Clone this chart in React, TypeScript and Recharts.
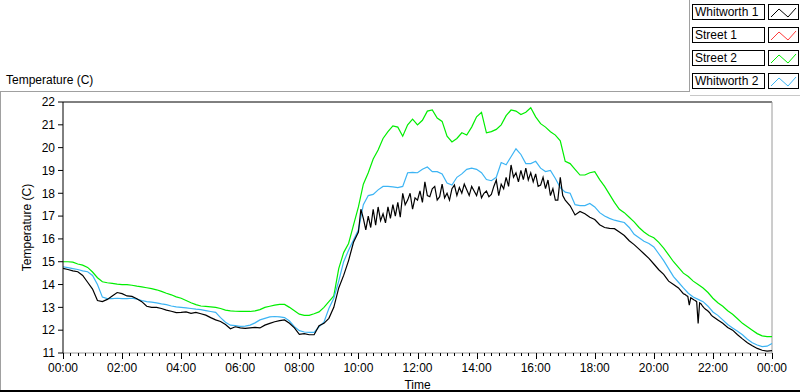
import { LineChart, Line, XAxis, YAxis, ReferenceLine } from "recharts";

// readings per hour, evenly spaced inside the hour (row length sets the step)
const whitworth1 = [
  [14.71, 14.66, 14.6, 14.56, 14.4, 14.1],
  [13.8, 13.3, 13.25, 13.35, 13.5, 13.65],
  [13.6, 13.5, 13.48, 13.38, 13.25, 13.05],
  [13.0, 13.0, 12.95, 12.88, 12.83, 12.77],
  [12.78, 12.8, 12.74, 12.78, 12.72, 12.66],
  [12.55, 12.45, 12.38, 12.25, 12.06, 12.15],
  [12.1, 12.08, 12.1, 12.12, 12.1, 12.22],
  [12.3, 12.37, 12.42, 12.45, 12.3, 12.1],
  [11.82, 11.85, 11.8, 11.8, 12.2, 12.3],
  [12.52, 13.0, 13.85, 14.4, 15.05, 15.85],
  [16.3, 17.3, 16.9, 16.4, 17.0, 16.5, 17.3, 16.6, 17.4, 16.8, 17.1, 16.7],
  [17.4, 16.9, 17.5, 17.0, 17.6, 16.95, 18.0, 17.5, 17.7, 18.0, 17.3, 17.8],
  [17.7, 18.1, 17.6, 18.5, 17.9, 17.85, 18.2, 18.3, 17.7, 17.85, 18.4, 17.8],
  [18.0, 17.7, 18.2, 18.36, 17.9, 18.25, 18.0, 18.4, 18.15, 17.9, 18.3, 18.1],
  [17.9, 18.3, 17.8, 18.0, 18.1, 17.85, 17.95, 18.3, 18.58, 17.9, 18.4, 18.2],
  [18.7, 18.3, 19.24, 18.7, 18.9, 18.5, 19.0, 18.6, 19.1, 18.58, 18.9, 18.5],
  [18.85, 18.3, 18.36, 18.7, 18.2, 18.58, 17.9, 18.2, 17.7, 17.7, 18.7, 17.9],
  [17.7, 17.45, 17.05, 17.2, 17.1, 16.95],
  [16.85, 16.62, 16.5, 16.46, 16.45, 16.3],
  [16.15, 15.92, 15.75, 15.55, 15.35, 15.15],
  [14.9, 14.65, 14.45, 14.15, 14.0, 13.85],
  [13.6, 13.57, 13.52, 13.48, 13.1, 13.42, 13.38, 13.33, 13.3, 13.25,
   12.3, 13.2, 13.15, 13.05, 12.98, 12.92, 12.87, 12.82, 12.75, 12.65],
  [12.6, 12.45, 12.3, 12.12, 12.0, 11.8],
  [11.62, 11.45, 11.32, 11.2, 11.12, 11.08],
  [11.1],
];

const street1: number[][] = [];

const street2 = [
  [15.0, 15.0, 14.98, 14.9, 14.85, 14.75],
  [14.55, 14.3, 14.12, 14.08, 14.05, 14.02],
  [14.0, 14.0, 13.97, 13.93, 13.9, 13.86],
  [13.82, 13.77, 13.7, 13.62, 13.55, 13.46],
  [13.4, 13.3, 13.2, 13.12, 13.06, 13.04],
  [13.02, 13.0, 12.95, 12.88, 12.85, 12.83],
  [12.82, 12.82, 12.82, 12.85, 12.9, 13.0],
  [13.05, 13.1, 13.13, 13.13, 13.0, 12.85],
  [12.7, 12.65, 12.65, 12.72, 12.8, 13.0],
  [13.25, 13.5, 14.7, 15.4, 15.8, 16.6],
  [17.4, 18.4, 18.9, 19.5, 19.9, 20.4],
  [20.7, 20.95, 20.9, 20.5, 21.0, 21.25],
  [21.0, 21.2, 21.6, 21.65, 21.3, 21.15],
  [20.5, 20.25, 20.4, 20.65, 20.55, 20.9],
  [21.35, 21.55, 20.65, 20.7, 20.8, 21.0],
  [21.4, 21.65, 21.6, 21.45, 21.55, 21.75],
  [21.35, 21.05, 20.9, 20.7, 20.55, 20.3],
  [19.4, 19.3, 19.05, 18.8, 18.8, 18.9],
  [18.95, 18.6, 18.3, 17.95, 17.6, 17.3],
  [17.15, 16.95, 16.75, 16.5, 16.3, 16.15],
  [16.05, 15.85, 15.6, 15.3, 15.0, 14.75],
  [14.5, 14.35, 14.15, 14.0, 13.85, 13.65],
  [13.4, 13.2, 13.05, 12.85, 12.7, 12.5],
  [12.3, 12.15, 12.0, 11.85, 11.75, 11.72],
  [11.72],
];

const whitworth2 = [
  [14.78, 14.74, 14.7, 14.66, 14.6, 14.56],
  [14.4, 14.0, 13.45, 13.38, 13.38, 13.4],
  [13.38, 13.38, 13.4, 13.36, 13.3, 13.25],
  [13.23, 13.2, 13.15, 13.12, 13.06, 13.02],
  [13.0, 12.98, 12.95, 12.92, 12.9, 12.86],
  [12.82, 12.78, 12.55, 12.35, 12.22, 12.2],
  [12.17, 12.18, 12.22, 12.32, 12.45, 12.52],
  [12.58, 12.6, 12.58, 12.55, 12.4, 12.15],
  [11.98, 11.92, 11.9, 11.9, 12.15, 12.35],
  [12.95, 13.4, 14.15, 15.0, 15.5, 15.95],
  [16.4, 17.5, 17.9, 17.95, 18.15, 18.3],
  [18.3, 18.28, 18.25, 18.3, 18.9, 18.92],
  [18.9, 19.05, 19.15, 18.95, 18.95, 18.85],
  [18.45, 18.36, 18.7, 18.85, 19.05, 19.1],
  [19.05, 18.9, 18.6, 18.55, 18.7, 19.35],
  [19.25, 19.6, 19.95, 19.7, 19.3, 19.3],
  [19.4, 19.1, 18.95, 19.0, 18.65, 18.25],
  [18.05, 18.0, 17.5, 17.46, 17.46, 17.55],
  [17.4, 17.15, 17.0, 16.9, 16.82, 16.77],
  [16.72, 16.5, 16.2, 16.05, 15.9, 15.8],
  [15.65, 15.35, 15.05, 14.7, 14.35, 14.1],
  [13.85, 13.62, 13.45, 13.35, 13.25, 13.05],
  [12.8, 12.65, 12.45, 12.25, 12.1, 11.95],
  [11.8, 11.6, 11.45, 11.35, 11.28, 11.3],
  [11.42],
];

const timeLabels = [
  "00:00", "02:00", "04:00", "06:00", "08:00", "10:00", "12:00",
  "14:00", "16:00", "18:00", "20:00", "22:00", "00:00",
];
const tempTicks = [11, 12, 13, 14, 15, 16, 17, 18, 19, 20, 21, 22];

const series = [
  { name: "Whitworth 1", color: "#000000", rows: whitworth1 },
  { name: "Street 1", color: "#ff3a3a", rows: street1 },
  { name: "Street 2", color: "#00ee00", rows: street2 },
  { name: "Whitworth 2", color: "#3cb4f4", rows: whitworth2 },
];
const drawOrder = ["Street 2", "Whitworth 2", "Street 1", "Whitworth 1"];

const FONT = "'Liberation Sans', Arial, sans-serif";

const toPoints = (rows: number[][]) =>
  rows.flatMap((row, h) =>
    row.map((v, i) => ({ t: h * 60 + (i * 60) / row.length, v })),
  );

// 15 minute minor ticks, labelled every 2 hours
const xTicks = Array.from({ length: 97 }, (_, i) => i * 15);

const TimeTick = (props: any) => {
  const { x, y, payload } = props;
  const major = payload.value % 120 === 0;
  const px = Math.round(x) + 0.5;
  return (
    <g>
      <line
        x1={px}
        y1={y}
        x2={px}
        y2={y + (major ? 6 : 3)}
        stroke="#000"
        strokeWidth={1}
        shapeRendering="crispEdges"
      />
      {major && (
        <text
          x={x}
          y={y + 19}
          textAnchor="middle"
          fill="#000"
          fontSize={12}
          fontFamily={FONT}>
          {timeLabels[payload.value / 120]}
        </text>
      )}
    </g>
  );
};

const Swatch = ({ color }: { color: string }) => (
  <svg width={31} height={16} style={{ display: "block" }}>
    <rect x={0.5} y={0.5} width={30} height={15} fill="#fff" stroke="#000" />
    <polyline
      points="3,13 11,5 20,13 28,4"
      fill="none"
      stroke={color}
      strokeWidth={1}
    />
  </svg>
);

const App = () => {
  return (
    <div
      style={{
        position: "absolute",
        left: 0,
        top: 0,
        width: 800,
        height: 392,
        background: "#fff",
        fontFamily: FONT,
        overflow: "hidden",
      }}>
      {/* panel frame */}
      <div style={{ position: "absolute", left: 0, top: 91, width: 690, height: 1, background: "#a0a0a0" }} />
      <div style={{ position: "absolute", left: 0, top: 91, width: 1, height: 301, background: "#a0a0a0" }} />
      <div style={{ position: "absolute", left: 0, top: 390, width: 800, height: 2, background: "#000" }} />
      <div style={{ position: "absolute", left: 689, top: 0, width: 1, height: 92, background: "#a0a0a0" }} />
      <div style={{ position: "absolute", left: 690, top: 95, width: 110, height: 1, background: "#c8c8c8" }} />

      <div
        style={{
          position: "absolute",
          left: 6,
          top: 73,
          fontSize: 12,
          color: "#000",
          whiteSpace: "nowrap",
        }}>
        Temperature (C)
      </div>

      {/* legend */}
      <div style={{ position: "absolute", left: 692, top: 4 }}>
        {series.map((s) => (
          <div
            key={s.name}
            style={{ display: "flex", gap: 3, marginBottom: 7, height: 16 }}>
            <div
              style={{
                width: 69,
                height: 14,
                border: "1px solid #000",
                background: "#fff",
                fontSize: 12,
                lineHeight: "14px",
                paddingLeft: 2,
                color: "#000",
                whiteSpace: "nowrap",
              }}>
              {s.name}
            </div>
            <Swatch color={s.color} />
          </div>
        ))}
      </div>

      <LineChart
        width={800}
        height={392}
        margin={{ top: 102, right: 28, bottom: 0, left: 0 }}
        style={{ position: "absolute", left: 0, top: 0 }}>
        <XAxis
          dataKey="t"
          type="number"
          domain={[0, 1440]}
          ticks={xTicks}
          interval={0}
          height={39}
          tickLine={false}
          tickSize={0}
          tickMargin={0}
          tick={<TimeTick />}
          axisLine={{ stroke: "#9a9a9a" }}
          allowDuplicatedCategory={false}
          label={{
            value: "Time",
            position: "insideBottom",
            offset: 3,
            fill: "#000",
            fontSize: 12,
            fontFamily: FONT,
          }}
        />
        <YAxis
          type="number"
          domain={[11, 22]}
          ticks={tempTicks}
          interval={0}
          width={63}
          tickSize={5}
          tickMargin={3}
          tickLine={{ stroke: "#000" }}
          axisLine={{ stroke: "#000" }}
          tick={{ fill: "#000", fontSize: 12, fontFamily: FONT }}
          label={{
            value: "Temperature (C)",
            angle: -90,
            position: "insideLeft",
            offset: 27,
            fill: "#000",
            fontSize: 12,
            fontFamily: FONT,
            style: { textAnchor: "middle" },
          }}
        />
        <ReferenceLine y={22} stroke="#000" />
        <ReferenceLine x={1440} stroke="#9a9a9a" />
        {drawOrder.map((name) => {
          const s = series.find((item) => item.name === name)!;
          return (
            <Line
              key={s.name}
              data={toPoints(s.rows)}
              dataKey="v"
              name={s.name}
              type="linear"
              stroke={s.color}
              strokeWidth={1.2}
              dot={false}
              activeDot={false}
              isAnimationActive={false}
            />
          );
        })}
      </LineChart>
    </div>
  );
};

export default App;
